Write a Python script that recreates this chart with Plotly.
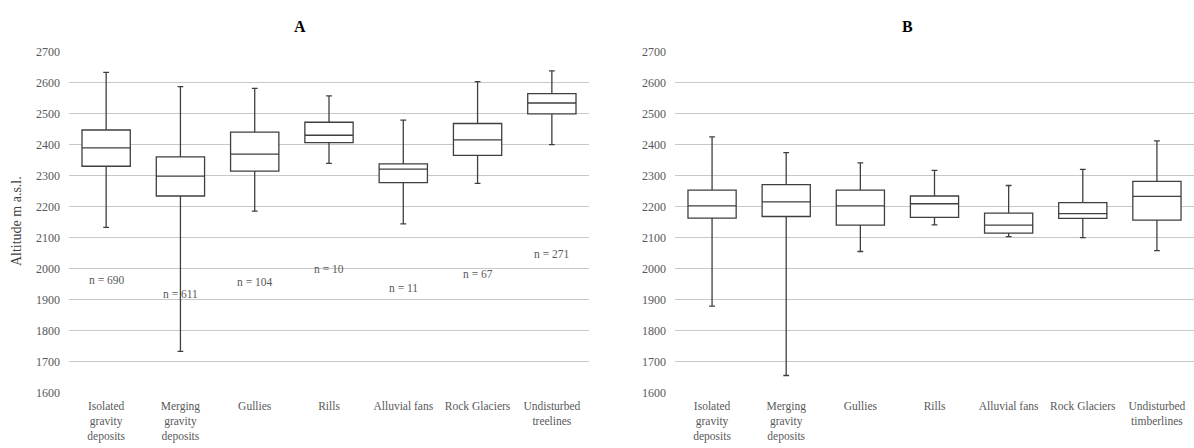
import plotly.graph_objects as go

# ---------------- data ----------------
categories_a = ["Isolated gravity deposits", "Merging gravity deposits", "Gullies", "Rills",
                "Alluvial fans", "Rock Glaciers", "Undisturbed treelines"]
ticktext_a = ["Isolated<br>gravity<br>deposits", "Merging<br>gravity<br>deposits", "Gullies", "Rills",
              "Alluvial fans", "Rock Glaciers", "Undisturbed<br>treelines"]
min_a = [2133, 1733, 2185, 2339, 2144, 2275, 2400]
q1_a = [2330, 2234, 2314, 2406, 2277, 2365, 2499]
median_a = [2389, 2298, 2369, 2430, 2321, 2415, 2534]
q3_a = [2447, 2360, 2440, 2472, 2338, 2468, 2564]
max_a = [2633, 2587, 2581, 2557, 2479, 2603, 2638]
n_labels_a = ["n = 690", "n = 611", "n = 104", "n = 10", "n = 11", "n = 67", "n = 271"]
n_label_y_a = [1963, 1919, 1956, 2000, 1937, 1981, 2046]

categories_b = ["Isolated gravity deposits", "Merging gravity deposits", "Gullies", "Rills",
                "Alluvial fans", "Rock Glaciers", "Undisturbed timberlines"]
ticktext_b = ["Isolated<br>gravity<br>deposits", "Merging<br>gravity<br>deposits", "Gullies", "Rills",
              "Alluvial fans", "Rock Glaciers", "Undisturbed<br>timberlines"]
min_b = [1879, 1655, 2055, 2141, 2103, 2100, 2058]
q1_b = [2163, 2168, 2140, 2165, 2114, 2162, 2156]
median_b = [2202, 2215, 2202, 2209, 2140, 2177, 2233]
q3_b = [2253, 2271, 2253, 2234, 2179, 2213, 2281]
max_b = [2425, 2374, 2341, 2317, 2268, 2320, 2412]

y_ticks = [1600, 1700, 1800, 1900, 2000, 2100, 2200, 2300, 2400, 2500, 2600, 2700]

# ---------------- style ----------------
FONT = "Liberation Serif"
BOX_LINE = "#3f3f3f"
GRID = "#c8c8c8"
TEXT = "#595959"
W, H = 1194, 448

fig = go.Figure()

fig.add_trace(go.Box(
    x=categories_a, q1=q1_a, median=median_a, q3=q3_a,
    lowerfence=min_a, upperfence=max_a,
    xaxis="x", yaxis="y",
    width=0.65, whiskerwidth=0.12, fillcolor="white",
    line=dict(color=BOX_LINE, width=1.3), boxpoints=False, hoverinfo="y",
))
fig.add_trace(go.Box(
    x=categories_b, q1=q1_b, median=median_b, q3=q3_b,
    lowerfence=min_b, upperfence=max_b,
    xaxis="x2", yaxis="y2",
    width=0.65, whiskerwidth=0.12, fillcolor="white",
    line=dict(color=BOX_LINE, width=1.3), boxpoints=False, hoverinfo="y",
))

annotations = []
for cat, lab, yv in zip(categories_a, n_labels_a, n_label_y_a):
    annotations.append(dict(x=cat, y=yv, xref="x", yref="y", text=lab, showarrow=False,
                            font=dict(family=FONT, size=11.5, color=TEXT)))

annotations += [
    dict(x=300 / W, y=1 - 20 / H, xref="paper", yref="paper", text="<b>A</b>", showarrow=False,
         xanchor="center", yanchor="middle", font=dict(family=FONT, size=16, color="black")),
    dict(x=907 / W, y=1 - 20 / H, xref="paper", yref="paper", text="<b>B</b>", showarrow=False,
         xanchor="center", yanchor="middle", font=dict(family=FONT, size=16, color="black")),
    dict(x=16 / W, y=1 - 221 / H, xref="paper", yref="paper", text="Altitude m a.s.l.", showarrow=False,
         textangle=-90, xanchor="center", yanchor="middle",
         font=dict(family=FONT, size=14, color="#404040")),
]

yaxis_common = dict(range=[1600, 2700], tickvals=y_ticks, showgrid=True, gridcolor=GRID, gridwidth=1,
                    zeroline=False, showline=False, ticks="", ticklabelstandoff=8,
                    tickfont=dict(family=FONT, size=12, color=TEXT),
                    domain=[1 - 398 / H, 1 - 46 / H], fixedrange=True)
xaxis_common = dict(type="category", range=[-0.5, 6.5], showgrid=False, zeroline=False, showline=False,
                    ticks="", ticklabelstandoff=5, tickangle=0,
                    tickfont=dict(family=FONT, size=11.5, color=TEXT), fixedrange=True)

fig.update_layout(
    width=W, height=H,
    margin=dict(l=0, r=0, t=0, b=0),
    paper_bgcolor="white", plot_bgcolor="white",
    showlegend=False,
    xaxis=dict(**xaxis_common, domain=[69 / W, 589 / W], anchor="y",
               tickvals=categories_a, ticktext=ticktext_a),
    xaxis2=dict(**xaxis_common, domain=[675 / W, 1.0], anchor="y2",
                tickvals=categories_b, ticktext=ticktext_b),
    yaxis=dict(**yaxis_common, anchor="x"),
    yaxis2=dict(**yaxis_common, anchor="x2"),
    annotations=annotations,
    font=dict(family=FONT),
)

fig.write_html(
    "out.html",
    config={"displayModeBar": False},
    post_script="document.body.style.margin='0';document.body.style.overflow='hidden';",
)
